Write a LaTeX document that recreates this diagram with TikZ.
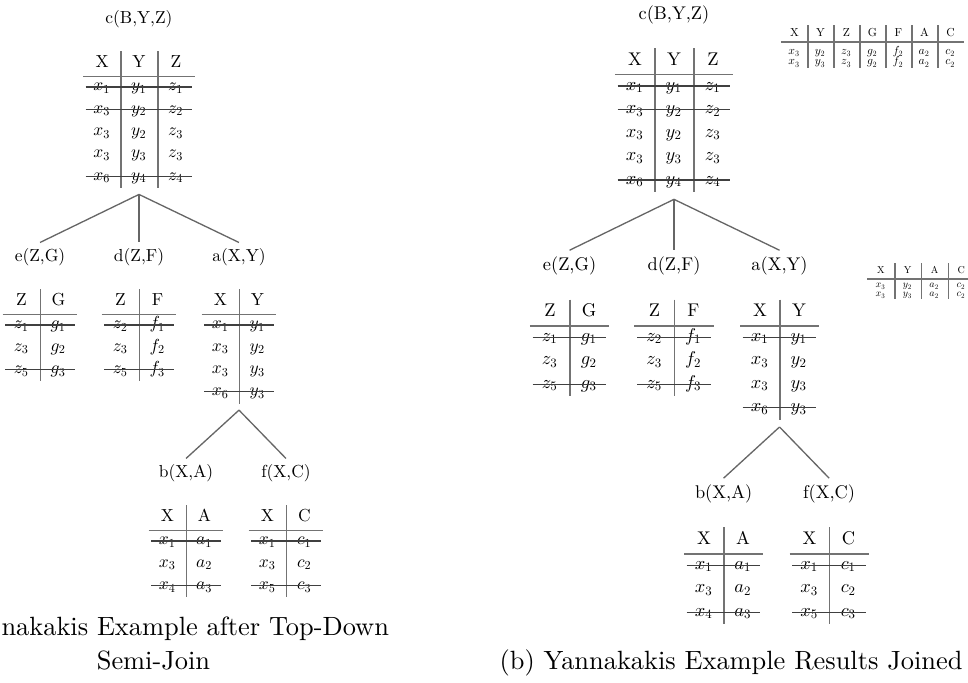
\documentclass[tikz,border=0pt]{standalone}
\usepackage{fontspec}
\setmainfont{lmroman10-regular.otf}
\DeclareFontShape{OML}{cmm}{m}{it}{<->cmmi10}{}
\DeclareFontShape{OT1}{cmr}{m}{n}{<->cmr10}{}
\usetikzlibrary{positioning, matrix}
\tikzset{
    rel/.style={font=\fontsize{6.6}{7.6}\selectfont, inner sep=2pt},
    cell/.style={
        minimum width=14pt,
        minimum height=8.45pt,
        inner sep=0pt,
        text height=4.6pt,
        text depth=1.6pt,
        font=\fontsize{6.6}{7.6}\selectfont
    },
    hcell/.style={minimum height=9.1pt},
    tbl/.style={matrix of nodes, ampersand replacement=\&, inner sep=2.5pt,
        nodes={cell}, row 1/.style={nodes={hcell}}},
    scell/.style={
        minimum width=9.85pt,
        minimum height=3.98pt,
        inner sep=0pt,
        text height=2.9pt,
        text depth=1pt,
        font=\fontsize{4.4}{5}\selectfont
    },
    stbl/.style={matrix of nodes, ampersand replacement=\&, inner sep=0pt,
        nodes={scell}, row 1/.style={nodes={minimum height=6.06pt}}},
    rule/.style={draw=black!55, line width=0.5pt},
    strike/.style={draw=black!75, line width=0.45pt, shorten <=1pt, shorten >=1pt},
    edge/.style={draw=black!60, line width=0.5pt},
    caption/.style={inner sep=0pt, font=\fontsize{10}{12}\selectfont}
}

% header rule and column separators of a table
\newcommand{\tablines}[3]{%
    \draw[rule] (#1-1-1.south west) -- (#1-1-#2.south east);
    \pgfmathtruncatemacro{\lastsep}{#2-1}
    \foreach \j in {1,...,\lastsep}
        \draw[rule] (#1-1-\j.north east) -- (#1-#3-\j.south east);
}
% struck-out rows
\newcommand{\strikerows}[3]{%
    \foreach \r in {#3}
        \draw[strike] (#1-\r-1.west) -- (#1-\r-#2.east);
}

% join tree, origin at the root table
\newcommand{\yantree}[1]{%
    % c
    \node[rel] (#1c) at (0,-174) {c(B,Y,Z)};
    \matrix[tbl, below=of #1c] (#1cT) {
        X \& Y \& Z \\
        $x_1$ \& $y_1$ \& $z_1$ \\
        $x_3$ \& $y_2$ \& $z_2$ \\
        $x_3$ \& $y_2$ \& $z_3$ \\
        $x_3$ \& $y_3$ \& $z_3$ \\
        $x_6$ \& $y_4$ \& $z_4$ \\
    };
    \tablines{#1cT}{3}{6}
    \strikerows{#1cT}{3}{2,3,6}

    % e
    \node[rel] (#1e) at (-99,64) {e(Z,G)};
    \matrix[tbl, below=of #1e] (#1eT) {
        Z \& G \\
        $z_1$ \& $g_1$ \\
        $z_3$ \& $g_2$ \\
        $z_5$ \& $g_3$ \\
    };
    \tablines{#1eT}{2}{4}
    \strikerows{#1eT}{2}{2,4}

    % d
    \node[rel] (#1d) at (0,64) {d(Z,F)};
    \matrix[tbl, below=of #1d] (#1dT) {
        Z \& F \\
        $z_2$ \& $f_1$ \\
        $z_3$ \& $f_2$ \\
        $z_5$ \& $f_3$ \\
    };
    \tablines{#1dT}{2}{4}
    \strikerows{#1dT}{2}{2,4}

    % a
    \node[rel] (#1a) at (100,64) {a(X,Y)};
    \matrix[tbl, below=of #1a] (#1aT) {
        X \& Y \\
        $x_1$ \& $y_1$ \\
        $x_3$ \& $y_2$ \\
        $x_3$ \& $y_3$ \\
        $x_6$ \& $y_3$ \\
    };
    \tablines{#1aT}{2}{5}
    \strikerows{#1aT}{2}{2,5}

    % b
    \node[rel] (#1b) at (47,280) {b(X,A)};
    \matrix[tbl, below=of #1b] (#1bT) {
        X \& A \\
        $x_1$ \& $a_1$ \\
        $x_3$ \& $a_2$ \\
        $x_4$ \& $a_3$ \\
    };
    \tablines{#1bT}{2}{4}
    \strikerows{#1bT}{2}{2,4}

    % f
    \node[rel] (#1f) at (147,280) {f(X,C)};
    \matrix[tbl, below=of #1f] (#1fT) {
        X \& C \\
        $x_1$ \& $c_1$ \\
        $x_3$ \& $c_2$ \\
        $x_5$ \& $c_3$ \\
    };
    \tablines{#1fT}{2}{4}
    \strikerows{#1fT}{2}{2,4}

    % edges
    \draw[edge] (#1cT.south) -- (#1e.north);
    \draw[edge] (#1cT.south) -- (#1d.north);
    \draw[edge] (#1cT.south) -- (#1a.north);
    \draw[edge] (#1aT.south) -- (#1b.north);
    \draw[edge] (#1aT.south) -- (#1f.north);
}

\begin{document}
\begin{tikzpicture}[x=0.3788pt, y=-0.3788pt, node distance=4.2pt]
\useasboundingbox (0,0) rectangle (968,682);

% Left tree
\begin{scope}[shift={(139,193)}]
    \yantree{L}
\end{scope}

% Right tree
\begin{scope}[shift={(674,198)}, scale=1.055, node distance=4.43pt,
    rel/.append style={font=\fontsize{6.96}{8}\selectfont, inner sep=2.11pt},
    cell/.append style={minimum width=14.77pt, minimum height=8.91pt,
        text height=4.85pt, text depth=1.69pt, font=\fontsize{6.96}{8}\selectfont},
    hcell/.append style={minimum height=9.6pt},
    tbl/.append style={inner sep=2.64pt}]
    \yantree{R}
\end{scope}

% Joined results
\matrix[stbl, anchor=north] (resAll) at (872.5,25) {
    X \& Y \& Z \& G \& F \& A \& C \\[1.9pt]
    $x_3$ \& $y_2$ \& $z_3$ \& $g_2$ \& $f_2$ \& $a_2$ \& $c_2$ \\
    $x_3$ \& $y_3$ \& $z_3$ \& $g_2$ \& $f_2$ \& $a_2$ \& $c_2$ \\
};
\tablines{resAll}{7}{3}

\matrix[stbl, anchor=north west,
    nodes={minimum width=10.15pt, minimum height=3.4pt, text height=2.5pt,
        text depth=0.9pt, font=\fontsize{3.8}{4.5}\selectfont},
    row 1/.style={nodes={minimum height=5.7pt}}] (resXYAC) at (867,263) {
    X \& Y \& A \& C \\[0.76pt]
    $x_3$ \& $y_2$ \& $a_2$ \& $c_2$ \\
    $x_3$ \& $y_3$ \& $a_2$ \& $c_2$ \\
};
\tablines{resXYAC}{4}{3}

% Captions
\node[caption, anchor=base west] (capA1) at (1,635) {nakakis Example after Top-Down};
\node[caption, anchor=base] (capA2) at (153.5,669) {Semi-Join};
\node[caption, anchor=base east] (capB) at (963,669) {(b) Yannakakis Example Results Joined};

\end{tikzpicture}
\end{document}
